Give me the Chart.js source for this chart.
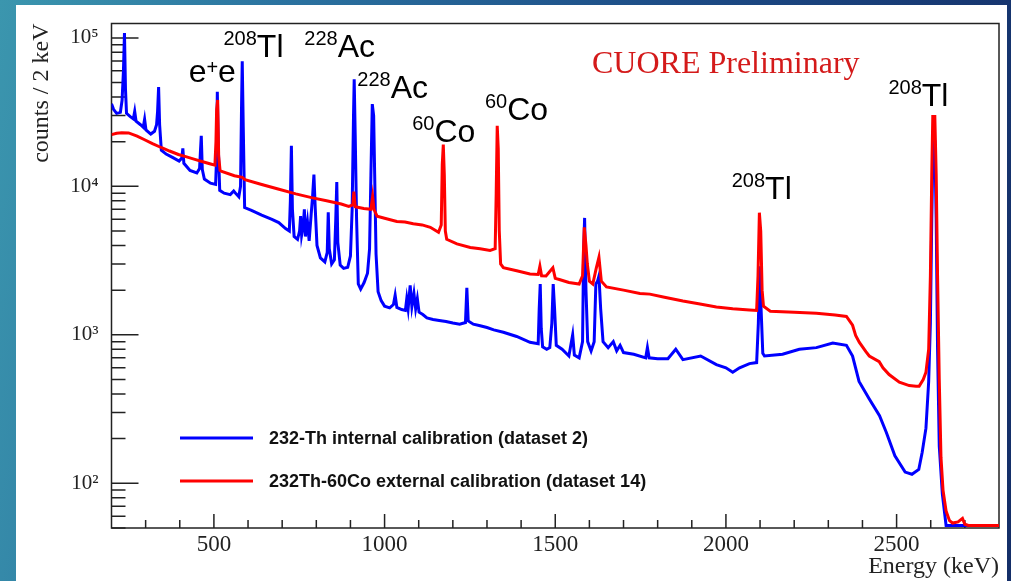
<!DOCTYPE html>
<html>
<head>
<meta charset="utf-8">
<script src="https://cdn.jsdelivr.net/npm/chart.js@4"></script>
<style>
html, body { margin: 0; padding: 0; }
body {
    width: 1011px; height: 581px; overflow: hidden; position: relative;
    background: linear-gradient(100deg, #3b96ae 0%, #2b73a0 25%, #1d4c86 60%, #142e68 100%);
}
#panel { position: absolute; left: 16px; top: 5px; width: 991px; height: 576px; background: #fff; }
#myChart { position: absolute; left: 0; top: 0; }
</style>
</head>
<body>
<div id="panel"></div>
<canvas id="myChart" width="1011" height="581"></canvas>
<script>
// 232-Th internal calibration (dataset 2): energy in keV, counts / 2 keV
var blueEnergy = [200, 206, 215, 226, 231, 235, 238, 241, 244, 255, 264, 268, 272, 285, 293, 297, 301, 315, 326, 332, 335, 338, 341, 346, 360, 380, 398, 406, 409, 412, 430, 450, 458, 461, 463, 466, 472, 490, 505, 508, 510, 513, 517, 530, 548, 558, 565, 573, 578, 581, 583, 586, 590, 610, 640, 670, 690, 710, 721, 724, 727, 730, 735, 745, 751, 754, 757, 762, 765, 768, 774, 779, 785, 789, 793, 797, 802, 812, 825, 832, 835, 838, 845, 853, 857, 860, 863, 870, 880, 892, 900, 905, 909, 911, 914, 918, 923, 930, 940, 950, 956, 960, 964, 968, 971, 975, 981, 990, 1000, 1015, 1026, 1031, 1036, 1050, 1061, 1065, 1069, 1075, 1080, 1086, 1091, 1096, 1101, 1112, 1124, 1142, 1160, 1180, 1200, 1220, 1237, 1241, 1245, 1260, 1280, 1300, 1320, 1348, 1387, 1426, 1450, 1453, 1456, 1459, 1463, 1475, 1484, 1490, 1494, 1498, 1503, 1520, 1540, 1551, 1556, 1570, 1580, 1583, 1586, 1590, 1595, 1605, 1614, 1619, 1624, 1628, 1633, 1640, 1655, 1670, 1680, 1690, 1700, 1730, 1765, 1770, 1775, 1800, 1830, 1853, 1874, 1926, 1972, 2000, 2020, 2040, 2069, 2090, 2095, 2099, 2103, 2108, 2113, 2166, 2215, 2265, 2313, 2353, 2371, 2390, 2420, 2450, 2470, 2495, 2525, 2545, 2565, 2575, 2586, 2594, 2599, 2603, 2607, 2612, 2616, 2620, 2625, 2634, 2645, 2800];
var blueCounts = [36000, 33000, 31000, 31500, 38000, 60000, 108000, 45000, 31000, 29500, 28500, 32000, 27500, 26000, 25000, 28300, 24000, 22500, 23500, 26000, 32000, 46600, 26000, 17500, 16500, 15600, 14800, 15500, 18000, 14300, 12800, 12300, 13200, 18000, 21900, 13000, 11200, 10500, 10300, 16000, 43300, 18000, 9400, 9000, 8800, 9300, 8900, 8500, 10000, 35000, 69700, 25000, 7200, 6900, 6400, 6000, 5700, 5200, 5000, 8000, 18800, 7000, 4600, 4400, 5000, 6300, 4700, 5500, 7000, 4600, 5800, 4300, 6500, 8500, 12000, 7000, 4000, 3300, 3100, 3600, 6700, 3800, 3000, 3200, 6000, 10700, 4200, 2950, 2800, 2850, 3400, 7000, 30000, 52600, 22000, 6000, 2200, 2030, 2250, 2600, 3800, 12000, 35800, 30000, 12000, 3500, 1950, 1700, 1560, 1520, 1600, 1850, 1530, 1480, 1460, 1750, 1500, 2150, 1550, 1900, 1500, 1750, 1420, 1370, 1300, 1270, 1250, 1230, 1200, 1180, 1210, 2070, 1240, 1180, 1150, 1120, 1080, 1040, 975, 890, 870, 1500, 2200, 1100, 830, 800, 820, 1200, 2200, 1500, 850, 800, 720, 1000, 730, 700, 900, 3500, 6130, 2000, 900, 780, 900, 2200, 2300, 2490, 1500, 900, 820, 900, 780, 850, 760, 740, 700, 820, 700, 690, 690, 800, 680, 720, 630, 600, 560, 600, 640, 650, 1200, 2900, 1500, 750, 720, 740, 800, 820, 880, 850, 720, 485, 370, 285, 220, 153, 119, 115, 124, 162, 235, 485, 1200, 6000, 20000, 20000, 6000, 800, 178, 85, 52, 52];

// 232Th-60Co external calibration (dataset 14)
var redEnergy = [200, 215, 230, 250, 275, 297, 320, 347, 370, 396, 420, 444, 470, 493, 503, 506, 508, 511, 514, 518, 523, 560, 583, 591, 640, 688, 740, 786, 830, 873, 895, 907, 910, 914, 939, 960, 965, 969, 978, 1000, 1036, 1060, 1084, 1110, 1134, 1158, 1166, 1169, 1172, 1175, 1178, 1182, 1212, 1251, 1280, 1309, 1324, 1327, 1330, 1333, 1336, 1340, 1348, 1387, 1426, 1450, 1455, 1460, 1473, 1493, 1500, 1512, 1540, 1570, 1580, 1585, 1590, 1594, 1600, 1610, 1620, 1628, 1635, 1650, 1700, 1748, 1777, 1820, 1874, 1920, 1972, 2020, 2069, 2090, 2094, 2098, 2102, 2106, 2110, 2130, 2200, 2265, 2320, 2353, 2371, 2380, 2391, 2410, 2420, 2449, 2460, 2478, 2508, 2537, 2557, 2566, 2578, 2586, 2594, 2599, 2603, 2606, 2612, 2616, 2620, 2625, 2630, 2636, 2645, 2655, 2664, 2680, 2693, 2700, 2710, 2800];
var redCounts = [22300, 22800, 23000, 22900, 21800, 20600, 19400, 18200, 17300, 16400, 15800, 15200, 14600, 14100, 13900, 20000, 33000, 38200, 16000, 12800, 12600, 11800, 11500, 11100, 10300, 9600, 8900, 8400, 8000, 7600, 7330, 7500, 9200, 7300, 7100, 7000, 8560, 7000, 6300, 6100, 5800, 5750, 5600, 5500, 5300, 4900, 5500, 14000, 19100, 12000, 5000, 4400, 4100, 3880, 3800, 3700, 3800, 9000, 25600, 18000, 5000, 3000, 2830, 2700, 2570, 2550, 2900, 2500, 2490, 2830, 2400, 2360, 2250, 2200, 2500, 5300, 4000, 3000, 2300, 2200, 2800, 3330, 2300, 2100, 2000, 1900, 1880, 1790, 1690, 1620, 1540, 1500, 1470, 1460, 2500, 6650, 5000, 2000, 1560, 1440, 1420, 1400, 1360, 1330, 1160, 990, 890, 770, 720, 660, 600, 540, 480, 455, 450, 450, 500, 560, 800, 2500, 12000, 29600, 29600, 12000, 2500, 500, 150, 90, 65, 56, 54, 55, 58, 53, 52, 52];

var xTickValues = [500, 1000, 1500, 2000, 2500];
var yTickValues = [100, 1000, 10000, 100000];
var seriesNames = ['232-Th internal calibration (dataset 2)', '232Th-60Co external calibration (dataset 14)'];

// peak labels: superscript part, main part, and where the label sits (keV, counts)
var peakLabels = [
    { pre: '', sup: '208', main: 'Tl', energy: 528, counts: 74200 },
    { pre: 'e', sup: '+', main: 'e', energy: 426, counts: 50400 },
    { pre: '', sup: '228', main: 'Ac', energy: 765, counts: 74200 },
    { pre: '', sup: '228', main: 'Ac', energy: 920, counts: 39400 },
    { pre: '', sup: '60', main: 'Co', energy: 1081, counts: 19950 },
    { pre: '', sup: '60', main: 'Co', energy: 1294, counts: 28100 },
    { pre: '', sup: '208', main: 'Tl', energy: 2017, counts: 8260 },
    { pre: '', sup: '208', main: 'Tl', energy: 2476, counts: 34800 }
];

var superDigits = { '2': '\u00b2', '3': '\u00b3', '4': '\u2074', '5': '\u2075' };
var serif = '"Liberation Serif", "Times New Roman", serif';
var sans = '"Liberation Sans", Arial, sans-serif';

function toPoints(xs, ys) {
    return xs.map(function (x, i) { return { x: x, y: ys[i] }; });
}

// frame and inward ROOT-style tick marks
var framePlugin = {
    id: 'frame',
    beforeDatasetsDraw: function (chart) {
        var a = chart.chartArea;
        var c = chart.ctx;
        var xs = chart.scales.x;
        var ys = chart.scales.y;
        c.save();
        c.strokeStyle = '#222';
        c.lineWidth = 1.5;
        c.strokeRect(a.left, a.top, a.right - a.left, a.bottom - a.top);
        c.beginPath();
        for (var e = 300; e < 2800; e += 100) {
            var px = xs.getPixelForValue(e);
            var len = (e % 500 === 0) ? 14 : 8;
            c.moveTo(px, a.bottom);
            c.lineTo(px, a.bottom - len);
        }
        for (var d = 10; d <= 100000; d *= 10) {
            for (var m = 1; m <= 9; m++) {
                var v = d * m;
                if (v < ys.min || v > ys.max) continue;
                var py = ys.getPixelForValue(v);
                var l = (m === 1) ? 27 : 14;
                c.moveTo(a.left, py);
                c.lineTo(a.left + l, py);
            }
        }
        c.stroke();
        c.restore();
    }
};

// peak names, "CUORE Preliminary" and the legend box
var labelPlugin = {
    id: 'labels',
    afterDatasetsDraw: function (chart) {
        var c = chart.ctx;
        var xs = chart.scales.x;
        var ys = chart.scales.y;
        c.save();
        c.fillStyle = '#000';
        c.textBaseline = 'alphabetic';
        c.textAlign = 'left';
        peakLabels.forEach(function (p) {
            var x = xs.getPixelForValue(p.energy);
            var y = ys.getPixelForValue(p.counts);
            c.font = '32px ' + sans;
            if (p.pre) {
                c.fillText(p.pre, x, y);
                x += c.measureText(p.pre).width;
            }
            c.font = '20px ' + sans;
            c.fillText(p.sup, x, y - (p.pre ? 8 : 12));
            x += c.measureText(p.sup).width;
            c.font = '32px ' + sans;
            c.fillText(p.main, x, y);
        });

        c.fillStyle = '#d41a1a';
        c.font = '32px ' + serif;
        c.fillText('CUORE Preliminary', 592, 73);

        // legend
        var rows = [438, 481];
        chart.data.datasets.forEach(function (ds, i) {
            c.strokeStyle = ds.borderColor;
            c.lineWidth = 3;
            c.beginPath();
            c.moveTo(180, rows[i]);
            c.lineTo(253, rows[i]);
            c.stroke();
            c.fillStyle = '#111';
            c.font = 'bold 18px ' + sans;
            c.textBaseline = 'middle';
            c.fillText(ds.label, 269, rows[i] + 1);
        });
        c.restore();
    }
};

var ctx = document.getElementById('myChart').getContext('2d');
var myChart = new Chart(ctx, {
    type: 'line',
    data: {
        datasets: [{
            label: seriesNames[0],
            data: toPoints(blueEnergy, blueCounts),
            borderColor: '#0000ff',
            borderWidth: 3,
            pointRadius: 0,
            tension: 0,
            order: 2
        },
        {
            label: seriesNames[1],
            data: toPoints(redEnergy, redCounts),
            borderColor: '#ff0000',
            borderWidth: 3,
            pointRadius: 0,
            tension: 0,
            order: 1
        }]
    },
    options: {
        responsive: false,
        animation: false,
        events: [],
        layout: { padding: { left: 16, top: 23, right: 12, bottom: 0 } },
        plugins: {
            legend: { display: false },
            tooltip: { enabled: false }
        },
        scales: {
            x: {
                type: 'linear',
                min: 200,
                max: 2800,
                afterFit: function (s) { s.height = 53; },
                afterBuildTicks: function (s) {
                    s.ticks = xTickValues.map(function (v) { return { value: v }; });
                },
                grid: { display: false, drawTicks: false },
                border: { display: false },
                ticks: {
                    padding: 5,
                    autoSkip: false,
                    maxRotation: 0,
                    color: '#222',
                    font: { family: serif, size: 23, lineHeight: 1 },
                    callback: function (v) { return String(v); }
                },
                title: {
                    display: true,
                    text: 'Energy (keV)',
                    align: 'end',
                    color: '#222',
                    padding: { top: 0, bottom: 0 },
                    font: { family: serif, size: 24, lineHeight: 1.2 }
                }
            },
            y: {
                type: 'logarithmic',
                min: 50,
                max: 125000,
                afterFit: function (s) { s.width = 95.5; },
                afterBuildTicks: function (s) {
                    s.ticks = yTickValues.map(function (v) { return { value: v }; });
                },
                grid: { display: false, drawTicks: false },
                border: { display: false },
                ticks: {
                    padding: 13,
                    autoSkip: false,
                    color: '#222',
                    font: { family: serif, size: 21, lineHeight: 1 },
                    callback: function (v) {
                        var e = String(Math.round(Math.log10(v)));
                        return '10' + superDigits[e];
                    }
                },
                title: {
                    display: true,
                    text: 'counts / 2 keV',
                    align: 'end',
                    color: '#222',
                    padding: { top: 11, bottom: 0 },
                    font: { family: serif, size: 24, lineHeight: 1.2 }
                }
            }
        }
    },
    plugins: [framePlugin, labelPlugin]
});
</script>
</body>
</html>
